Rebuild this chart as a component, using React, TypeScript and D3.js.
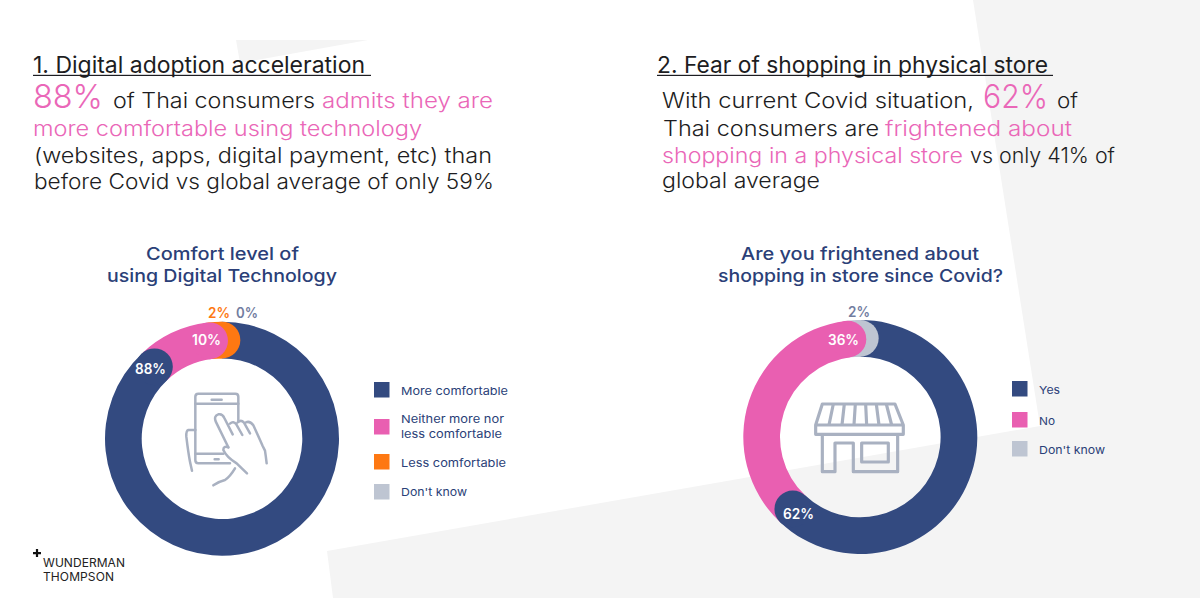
import * as d3 from 'd3'

const NAVY = '#334a80'
const PINK = '#e95fb1'
const ORANGE = '#fe7812'
const GREY = '#bec5d2'
const TITLE = '#2b3f78'
const INK = '#1d1d22'
const TEXT_PINK = '#ea67b8'
const ICON = '#a9b1c1'
const FONT = 'Inter, "Noto Sans", sans-serif'

// Comfort level of using Digital Technology
const comfortCategories = ['More comfortable', 'Neither more nor less comfortable', 'Less comfortable', "Don't know"]
const comfortValues = [88, 10, 2, 0]
const comfortColors = [NAVY, PINK, ORANGE, GREY]

// Are you frightened about shopping in store since Covid?
const frightCategories = ['Yes', 'No', "Don't know"]
const frightValues = [62, 36, 2]
const frightColors = [NAVY, PINK, GREY]

const OUTER = 117
const INNER = 80.3

type Run = [string, number, number, string?, number?, number?]

// text, left, right, colour, size, weight
const headline: { y: number; runs: Run[] }[] = [
  { y: 108, runs: [['88%', 33, 103, TEXT_PINK, 33, 300], ['of Thai consumers', 113, 315], ['admits they are', 322, 493, TEXT_PINK]] },
  { y: 135.5, runs: [['more comfortable using technology', 33, 422, TEXT_PINK]] },
  { y: 162.5, runs: [['(websites, apps, digital payment, etc) than', 34, 492]] },
  { y: 188.5, runs: [['before Covid vs global average of only 59%', 34, 494]] },
  { y: 108, runs: [['With current Covid situation,', 662, 974], ['62%', 983, 1048, TEXT_PINK, 33, 300], ['of', 1057, 1078]] },
  { y: 135.5, runs: [['Thai consumers are', 663, 879], ['frightened about', 885, 1072, TEXT_PINK]] },
  { y: 162.5, runs: [['shopping in a physical store', 662, 963, TEXT_PINK], ['vs only 41% of', 970, 1115]] },
  { y: 187.5, runs: [['global average', 662, 820]] },
]

function Txt({ t, x0, x1, y, fill = INK, size = 20, weight = 400, adjust = 'spacingAndGlyphs' }: { t: string; x0: number; x1: number; y: number; fill?: string; size?: number; weight?: number; adjust?: string }) {
  return (
    <text x={x0} y={y} fill={fill} fontSize={size} fontWeight={weight} fontFamily={FONT} textLength={x1 - x0} lengthAdjust={adjust as any}>
      {t}
    </text>
  )
}

function Donut({ cx, cy, values, colors }: { cx: number; cy: number; values: number[]; colors: string[] }) {
  const pie = d3.pie<number>().sort(null)
  const arc = d3.arc<any>().innerRadius(INNER).outerRadius(OUTER)
  const slices = pie(values)
  const capR = (OUTER - INNER) / 2
  return (
    <g transform={`translate(${cx},${cy})`}>
      {slices.map((s, i) => (
        <path key={i} d={arc(s) as string} fill={colors[i]} />
      ))}
      {/* each slice ends in a round cap that bites into the next one, last slice first */}
      {slices
        .map((s, i) => ({ s, i }))
        .reverse()
        .map(({ s, i }) => {
          if (s.value === 0) return null
          const [x, y] = arc.centroid({ startAngle: s.endAngle, endAngle: s.endAngle })
          return <circle key={i} cx={x} cy={y} r={capR} fill={colors[i]} />
        })}
    </g>
  )
}

function Legend({ x, tx, labels, colors, ys }: { x: number; tx: number; labels: [string, number, number][][]; colors: string[]; ys: number[] }) {
  return (
    <g>
      {labels.map((lines, i) => (
        <g key={i}>
          <rect x={x} y={ys[i]} width={15.5} height={15.5} fill={colors[i]} />
          {lines.map(([t, right, y]) => (
            <Txt key={t} t={t} x0={tx} x1={right} y={y} fill={TITLE} size={11} weight={400} />
          ))}
        </g>
      ))}
    </g>
  )
}

function PhoneIcon() {
  return (
    <g transform="translate(170,380) scale(0.3333)" fill="none" stroke={ICON} strokeWidth={7.5} strokeLinecap="round" strokeLinejoin="round">
      <path d="M205 125 V50 Q205 41 196 41 H85 Q76 41 76 50 V241 Q76 250 85 250 H180" />
      <path d="M76 71 H205 M76 221 H160 M125 59 H155 M134 238 H146" />
      <path d="M175 202 L137 124 Q131 108 145 103 Q157 100 163 114 L188 163 M180 131 Q190 122 199 133 L217 165 M203 127 Q213 118 222 128 L240 160 M228 127 Q240 122 250 136 Q268 175 278 198 L285 212 Q288 232 290 250" />
      <path d="M175 202 Q160 197 160 210 Q170 232 200 250 L231 280 M195 265 Q180 290 165 300 Q145 305 130 316" />
      <path d="M76 150 H55 Q48 152 49 170 Q55 220 60 245 L66 272" />
    </g>
  )
}

function StoreIcon() {
  return (
    <g transform="translate(720,290) scale(0.3333)" fill="none" stroke={ICON} strokeWidth={9.5} strokeLinejoin="round">
      <path d="M307 342 H525 L550 405 V433 H287 V405 Z M287 405 H550" />
      <path d="M340 342 L327 405 M373 342 L366 405 M406 342 L402 405 M437 342 L440 405 M469 342 L477 405 M499 342 L515 405" />
      <path d="M307 433 V545 H345 V459 H400 V545 H533 V433" />
      <rect x={425} y={459} width={80} height={57} />
    </g>
  )
}

export default function App() {
  return (
    <svg width={1200} height={598} style={{ position: 'absolute', left: 0, top: 0, background: '#fff' }}>
      {/* background planes */}
      <path d="M973 0 H1200 V598 H333 L327 551 L1040 426 Z" fill="#f4f4f4" />
      <path d="M236 40 H368 L240 63 Z" fill="#f4f4f4" />

      <Txt t="1. Digital adoption acceleration" x0={33} x1={365} y={73} size={22.5} />
      <rect x={33} y={74.8} width={338} height={1.2} fill={INK} />
      <Txt t="2. Fear of shopping in physical store" x0={657} x1={1048} y={73} size={22.5} />
      <rect x={657} y={74.8} width={396} height={1.2} fill={INK} />

      {headline.map(line =>
        line.runs.map(([t, x0, x1, fill, size, weight]) => (
          <Txt key={t} t={t} x0={x0} x1={x1} y={line.y} fill={fill ?? INK} size={size ?? 21} weight={weight ?? 300} />
        ))
      )}

      <Txt t="Comfort level of" x0={146} x1={299} y={259.7} fill={TITLE} size={17.5} weight={500} />
      <Txt t="using Digital Technology" x0={107} x1={337} y={281.5} fill={TITLE} size={17.5} weight={500} />
      <Txt t="Are you frightened about" x0={741} x1={979} y={259.7} fill={TITLE} size={17.5} weight={500} />
      <Txt t="shopping in store since Covid?" x0={718} x1={1003} y={281.5} fill={TITLE} size={17.5} weight={500} />

      <Donut cx={222} cy={438.7} values={comfortValues} colors={comfortColors} />
      <Donut cx={860.3} cy={437} values={frightValues} colors={frightColors} />

      <PhoneIcon />
      <StoreIcon />

      <Txt t={`${comfortValues[0]}%`} x0={135} x1={166} y={374} fill="#fff" size={14} weight={600} />
      <Txt t={`${comfortValues[1]}%`} x0={192} x1={221} y={345} fill="#fff" size={14} weight={600} />
      <Txt t={`${comfortValues[2]}%`} x0={208} x1={230} y={317.5} fill={ORANGE} size={14} weight={600} />
      <Txt t={`${comfortValues[3]}%`} x0={236} x1={258} y={317.5} fill="#727d9f" size={14} weight={600} />
      <Txt t={`${frightValues[0]}%`} x0={783} x1={814} y={519} fill="#fff" size={14} weight={600} />
      <Txt t={`${frightValues[1]}%`} x0={828} x1={859} y={345} fill="#fff" size={14} weight={600} />
      <Txt t={`${frightValues[2]}%`} x0={848} x1={870} y={316.5} fill="#727d9f" size={14} weight={600} />

      <Legend
        x={374}
        tx={401}
        colors={comfortColors}
        ys={[382, 419, 454, 484]}
        labels={[
          [[comfortCategories[0], 508, 395]],
          [['Neither more nor', 504, 423], ['less comfortable', 502, 438]],
          [[comfortCategories[2], 506, 467]],
          [[comfortCategories[3], 467, 496]],
        ]}
      />
      <Legend
        x={1012}
        tx={1039}
        colors={frightColors}
        ys={[381, 412, 441]}
        labels={[
          [[frightCategories[0], 1060, 394]],
          [[frightCategories[1], 1055, 425]],
          [[frightCategories[2], 1105, 454]],
        ]}
      />

      {/* logo */}
      <path d="M33 552 H41 V554.2 H33 Z M35.9 549 H38.1 V557 H35.9 Z" fill="#111" />
      <Txt t="WUNDERMAN" x0={43} x1={125} y={567} fill="#222" size={12} adjust="spacing" />
      <Txt t="THOMPSON" x0={43} x1={114} y={581} fill="#222" size={12} adjust="spacing" />
    </svg>
  )
}
